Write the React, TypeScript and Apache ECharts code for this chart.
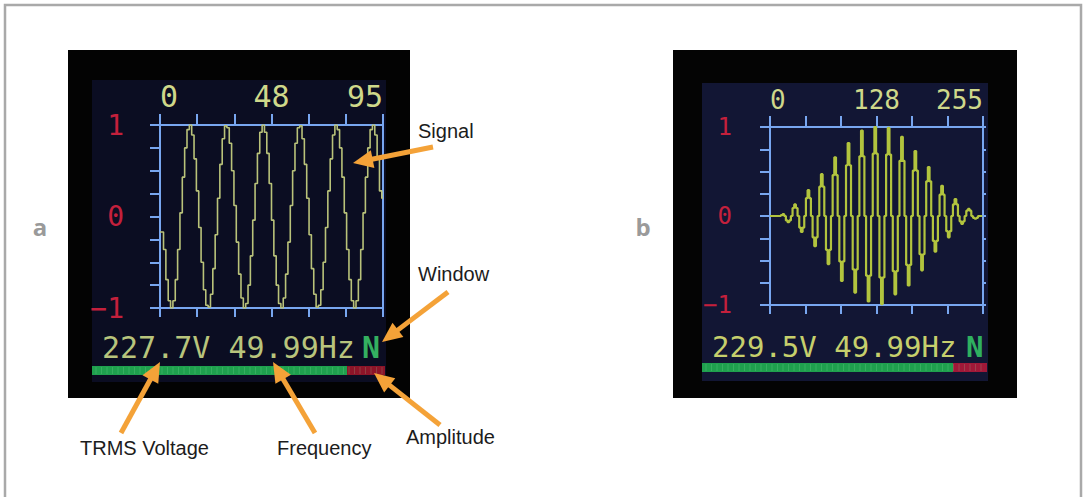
import React, { useEffect, useRef } from 'react';
import * as echarts from 'echarts';

// ---- Data ----
// Panel a: sampled mains signal, samples 0..95
const A_VALUES = [
  -0.17, -0.17, -0.36, -0.69, -0.92, -1.0, -0.92, -0.69, -0.36, 0.04,
  0.43, 0.75, 0.95, 1.0, 0.89, 0.63, 0.28, -0.12, -0.5, -0.8,
  -0.97, -0.99, -0.85, -0.57, -0.2, 0.2, 0.57, 0.85, 0.99, 0.97,
  0.8, 0.5, 0.12, -0.28, -0.63, -0.89, -1.0, -0.95, -0.75, -0.43,
  -0.04, 0.36, 0.69, 0.92, 1.0, 0.92, 0.69, 0.36, -0.04, -0.43,
  -0.75, -0.95, -1.0, -0.89, -0.63, -0.28, 0.12, 0.5, 0.8, 0.97,
  0.99, 0.85, 0.57, 0.2, -0.2, -0.57, -0.85, -0.99, -0.97, -0.8,
  -0.5, -0.12, 0.28, 0.63, 0.89, 1.0, 0.95, 0.75, 0.43, 0.04,
  -0.36, -0.69, -0.92, -1.0, -0.92, -0.69, -0.36, 0.04, 0.43, 0.75,
  0.95, 1.0, 0.89, 0.63, 0.28, 0.2,
];
// Panel b: windowed signal, every 2nd sample of 0..255
const B_SAMPLE_STEP = 2;
const B_VALUES = [
  0, 0, 0, 0, 0, 0, 0, 0.01, 0.02, 0,
  -0.05, -0.07, -0.05, 0, 0.09, 0.13, 0.09, 0, -0.13, -0.18,
  -0.13, 0, 0.2, 0.29, 0.2, 0, -0.24, -0.34, -0.24, 0,
  0.33, 0.47, 0.33, 0, -0.38, -0.54, -0.38, 0, 0.46, 0.66,
  0.46, 0, -0.51, -0.73, -0.51, 0, 0.57, 0.82, 0.57, 0,
  -0.6, -0.86, -0.6, 0, 0.67, 0.96, 0.67, 0, -0.67, -0.96,
  -0.67, 0, 0.7, 1.0, 0.7, 0, -0.69, -0.99, -0.69, 0,
  0.69, 0.99, 0.69, 0, -0.62, -0.88, -0.62, 0, 0.62, 0.89,
  0.62, 0, -0.55, -0.78, -0.55, 0, 0.51, 0.73, 0.51, 0,
  -0.43, -0.61, -0.43, 0, 0.39, 0.55, 0.39, 0, -0.28, -0.4,
  -0.28, 0, 0.24, 0.34, 0.24, 0, -0.17, -0.24, -0.17, 0,
  0.13, 0.19, 0.13, 0, -0.06, -0.09, -0.06, 0, 0.06, 0.08,
  0.06, 0, -0.02, -0.03, -0.02, 0, 0, 0,
];
const A_X_MAX = 95;
const B_X_MAX = 255;
const A_TOP_LABELS = ['0', '48', '95'];
const B_TOP_LABELS = ['0', '128', '255'];
const TOP_LABEL_TICK_INDEX = [0, 3, 6];
const X_TICK_COUNT = 6;
const Y_TICK_VALUES = [-1, 0, 1];
const Y_TICK_LABELS = ['−1', '0', '1'];
const A_READOUT = '227.7V 49.99Hz';
const B_READOUT = '229.5V 49.99Hz';
const WINDOW_MODE = 'N';
const PANEL_LETTERS = ['a', 'b'];
const ANNOTATIONS = ['Signal', 'Window', 'Amplitude', 'TRMS Voltage', 'Frequency'];

// ---- Styles ----
const AXIS_BLUE = '#78a6f0';
const LABEL_RED = '#c4203c';
const MONO = '"DejaVu Sans Mono", "Liberation Mono", monospace';
const ORANGE = '#f4a238';

function arrow(x1: number, y1: number, x2: number, y2: number) {
  const dx = x2 - x1, dy = y2 - y1;
  const len = Math.hypot(dx, dy);
  const ux = dx / len, uy = dy / len;
  const hl = 20, hw = 9;
  const bx = x2 - ux * hl, by = y2 - uy * hl;
  return [
    { type: 'line', z: 100, shape: { x1, y1, x2: bx + ux * 2, y2: by + uy * 2 }, style: { stroke: ORANGE, lineWidth: 5 } },
    {
      type: 'polygon', z: 100,
      shape: { points: [[x2, y2], [bx - uy * hw, by + ux * hw], [bx + uy * hw, by - ux * hw]] },
      style: { fill: ORANGE },
    },
  ];
}

function meter(x0: number, x1: number, x2: number, y: number, h: number, red: string) {
  const els: any[] = [
    { type: 'rect', z: -5, shape: { x: x0, y, width: x1 - x0, height: h }, style: { fill: '#1fa04e' } },
    { type: 'rect', z: -5, shape: { x: x1, y, width: x2 - x1, height: h }, style: { fill: red } },
  ];
  for (let x = x0 + 4; x < x2 - 2; x += 5.5) {
    els.push({ type: 'line', z: -4, shape: { x1: x, y1: y + 1, x2: x, y2: y + h - 1 }, style: { stroke: 'rgba(150,230,170,0.2)', lineWidth: 1 } });
  }
  return els;
}

function axesFor(gridIndex: number, xMax: number, topLabels: string[], topFont: number, topMargin: number, yFont: number, yMargin: number, rightTicks: boolean) {
  const line = { show: true, onZero: false, lineStyle: { color: AXIS_BLUE, width: 2 } };
  const tick = (len: number) => ({ show: true, inside: false, length: len, lineStyle: { color: AXIS_BLUE, width: 2 } });
  const xInterval = xMax / X_TICK_COUNT;
  const xAxes = [
    {
      type: 'value', gridIndex, position: 'top', min: 0, max: xMax, interval: xInterval,
      axisLine: line, axisTick: tick(11), splitLine: { show: false },
      axisLabel: {
        show: true, margin: topMargin, showMinLabel: true, showMaxLabel: true,
        alignMinLabel: 'left', alignMaxLabel: 'right',
        color: '#cfd88a', fontFamily: MONO, fontSize: topFont,
        formatter: (_v: number, idx: number) => {
          const k = TOP_LABEL_TICK_INDEX.indexOf(idx);
          return k >= 0 ? topLabels[k] : '';
        },
      },
    },
    {
      type: 'value', gridIndex, position: 'bottom', min: 0, max: xMax, interval: xInterval,
      axisLine: line, axisTick: tick(9), splitLine: { show: false }, axisLabel: { show: false },
    },
  ];
  const yAxes = [
    {
      type: 'value', gridIndex, position: 'left', min: -1, max: 1, interval: 0.25,
      axisLine: line, axisTick: tick(10), splitLine: { show: false },
      axisLabel: {
        show: true, margin: yMargin, color: LABEL_RED, fontFamily: MONO, fontSize: yFont,
        showMinLabel: true, showMaxLabel: true,
        formatter: (v: number) => {
          const k = Y_TICK_VALUES.indexOf(Math.round(v * 1000) / 1000);
          return k >= 0 ? Y_TICK_LABELS[k] : '';
        },
      },
    },
    {
      type: 'value', gridIndex, position: 'right', min: -1, max: 1, interval: 0.25,
      axisLine: line, axisTick: { ...tick(3), show: rightTicks }, splitLine: { show: false }, axisLabel: { show: false },
    },
  ];
  return { xAxes, yAxes };
}

export default function App() {
  const ref = useRef<HTMLDivElement>(null);
  useEffect(() => {
    if (!ref.current) return;
    const chart = echarts.init(ref.current, null, { renderer: 'svg' });
    const A = axesFor(0, A_X_MAX, A_TOP_LABELS, 30, 14, 28, 36, false);
    const B = axesFor(1, B_X_MAX, B_TOP_LABELS, 26, 14, 24, 38, true);

    const annText = (text: string, x: number, y: number) => ({
      type: 'text', z: 100, x, y,
      style: { text, fill: '#1c1c1c', fontFamily: '"Liberation Sans", Arial, sans-serif', fontSize: 20, verticalAlign: 'middle', align: 'left' },
    });
    const mono = (text: string, x: number, y: number, fill: string, size: number, bold = false) => ({
      type: 'text', z: 50, x, y,
      style: { text, fill, fontFamily: MONO, fontSize: size, fontWeight: bold ? 'bold' : 'normal', verticalAlign: 'middle', align: 'left' },
    });

    const graphic: any[] = [
      // outer frame
      { type: 'rect', z: -20, shape: { x: 5, y: 5, width: 1076, height: 500 }, style: { fill: '#ffffff', stroke: '#a9a9a9', lineWidth: 2.5 } },
      // panel letters
      { type: 'text', z: 10, x: 40, y: 226, style: { text: PANEL_LETTERS[0], fill: '#9a9a9a', fontFamily: '"Open Sans", "DejaVu Sans", sans-serif', fontWeight: 'bold', fontSize: 24, align: 'center', verticalAlign: 'middle' } },
      { type: 'text', z: 10, x: 643, y: 226, style: { text: PANEL_LETTERS[1], fill: '#9a9a9a', fontFamily: '"Open Sans", "DejaVu Sans", sans-serif', fontWeight: 'bold', fontSize: 24, align: 'center', verticalAlign: 'middle' } },
      // panel a screen
      { type: 'rect', z: -10, shape: { x: 68, y: 50, width: 342, height: 348 }, style: { fill: '#030303' } },
      { type: 'rect', z: -9, shape: { x: 92, y: 80, width: 294, height: 302 }, style: { fill: '#0b0d22' } },
      // panel b screen
      { type: 'rect', z: -10, shape: { x: 673, y: 50, width: 344, height: 348 }, style: { fill: '#040404' } },
      { type: 'rect', z: -9, shape: { x: 702, y: 83, width: 286, height: 298 }, style: { fill: '#121634' } },
      ...meter(92, 347, 385, 366, 9, '#8c1428'),
      ...meter(702, 953, 987, 363, 9, '#a01838'),
      mono(A_READOUT, 102, 347, '#b8c47c', 30),
      mono(WINDOW_MODE, 362, 347, '#34b060', 30, true),
      mono(B_READOUT, 712, 347, '#c6cf6c', 29),
      mono(WINDOW_MODE, 966, 347, '#2fb060', 29, true),
      // annotations
      annText(ANNOTATIONS[0], 418, 131),
      annText(ANNOTATIONS[1], 418, 274),
      annText(ANNOTATIONS[2], 406, 437),
      annText(ANNOTATIONS[3], 80, 448),
      annText(ANNOTATIONS[4], 277, 448),
      ...arrow(433, 147, 353, 163),
      ...arrow(448, 292, 382, 342),
      ...arrow(440, 425, 374, 373),
      ...arrow(121, 433, 160, 362),
      ...arrow(315, 433, 273, 362),
    ];

    chart.setOption({
      animation: false,
      backgroundColor: 'transparent',
      grid: [
        { left: 160, top: 125, width: 223, height: 183, show: false },
        { left: 770, top: 127, width: 213, height: 178, show: false },
      ],
      xAxis: [...A.xAxes, ...B.xAxes],
      yAxis: [...A.yAxes, ...B.yAxes],
      series: [
        {
          type: 'line', xAxisIndex: 0, yAxisIndex: 0, step: 'middle', showSymbol: false,
          data: A_VALUES.map((v, i) => [i, v]),
          lineStyle: { color: '#b9c27a', width: 1.6 }, z: 5,
        },
        {
          type: 'line', xAxisIndex: 2, yAxisIndex: 2, step: 'middle', showSymbol: false,
          data: B_VALUES.map((v, i) => [i * B_SAMPLE_STEP, v]),
          lineStyle: { color: '#b2c43e', width: 2.2 }, z: 5,
        },
      ],
      graphic,
    });
    return () => chart.dispose();
  }, []);
  return <div ref={ref} style={{ position: 'absolute', left: 0, top: 0, width: 1085, height: 497 }} />;
}
